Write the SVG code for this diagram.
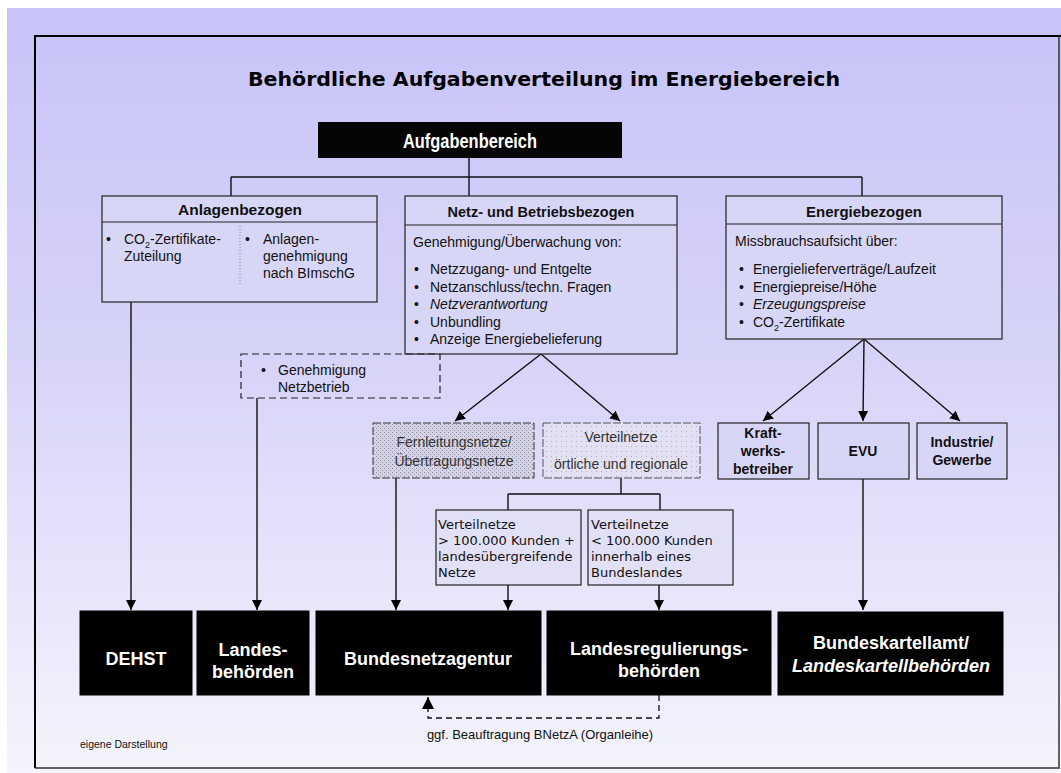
<svg xmlns="http://www.w3.org/2000/svg" width="1061" height="773" viewBox="0 0 1061 773">
<defs>
<linearGradient id="bg" x1="0" y1="0" x2="0" y2="1">
<stop offset="0" stop-color="#c8c3f8"/>
<stop offset="0.45" stop-color="#d6d3f8"/>
<stop offset="1" stop-color="#f4f4fc"/>
</linearGradient>
<pattern id="stip" width="4" height="4" patternUnits="userSpaceOnUse">
<rect width="4" height="4" fill="#d4d2e6"/>
<rect x="0" y="0" width="1" height="1" fill="#8a8a9a"/>
<rect x="2" y="2" width="1" height="1" fill="#9a9aaa"/>
</pattern>
<pattern id="stip2" width="5" height="5" patternUnits="userSpaceOnUse">
<rect width="5" height="5" fill="#e2e0f2"/>
<rect x="1" y="1" width="1" height="1" fill="#b0b0c0"/>
</pattern>
<marker id="ah" viewBox="0 0 10 10" refX="10" refY="5" markerWidth="10" markerHeight="10" markerUnits="userSpaceOnUse" orient="auto">
<path d="M0,0 L10,5 L0,10 z" fill="#000"/>
</marker>
<marker id="ahb" viewBox="0 0 10 10" refX="10" refY="5" markerWidth="12" markerHeight="12" markerUnits="userSpaceOnUse" orient="auto">
<path d="M0,0 L10,5 L0,10 z" fill="#000"/>
</marker>
</defs>
<style>
.box{fill:#d8d6f6;stroke:#222;stroke-width:1.2}
.blk{fill:#000;stroke:#000}
.hd{font-family:"Liberation Sans",Arial,sans-serif;font-weight:bold;font-size:14.5px;fill:#111}
.hs{font-family:"Liberation Sans",Arial,sans-serif;font-weight:bold;font-size:14px;fill:#111}
.tx{font-family:"Liberation Sans",Arial,sans-serif;font-size:14px;fill:#111}
.sm{font-family:"Liberation Sans",Arial,sans-serif;font-size:13px;fill:#111}
.mono{font-family:"DejaVu Sans",sans-serif;font-size:13px;fill:#111}
.wt{font-family:"Liberation Sans",Arial,sans-serif;font-weight:bold;font-size:18px;fill:#fff}
.ln{stroke:#111;stroke-width:1.4;fill:none}
</style>
<rect x="0" y="0" width="1061" height="773" fill="#fff"/>
<rect x="7" y="8" width="1054" height="765" fill="url(#bg)"/>
<path d="M35,768 L35,36 L1061,36" fill="none" stroke="#000" stroke-width="2"/>
<path d="M35,768 L1059,768 L1059,36" fill="none" stroke="#333" stroke-width="1.5"/>
<text x="544" y="86" text-anchor="middle" font-family="DejaVu Sans,sans-serif" font-weight="bold" font-size="19" fill="#000" textLength="592" lengthAdjust="spacingAndGlyphs">Behördliche Aufgabenverteilung im Energiebereich</text>

<g id="connectors">
<path class="ln" d="M469,158 L469,196 M231,177 L862,177 M231,177 L231,196 M862,177 L862,196"/>
<line class="ln" x1="541" y1="354" x2="455" y2="421" marker-end="url(#ah)"/>
<line class="ln" x1="541" y1="354" x2="620" y2="421" marker-end="url(#ah)"/>
<line class="ln" x1="864" y1="339" x2="763" y2="421" marker-end="url(#ah)"/>
<line class="ln" x1="864" y1="339" x2="863" y2="421" marker-end="url(#ah)"/>
<line class="ln" x1="864" y1="339" x2="960" y2="421" marker-end="url(#ah)"/>
<path class="ln" d="M621,478 L621,494 M508,494 L660,494 M508,494 L508,510 M660,494 L660,510"/>
<line class="ln" x1="131" y1="302" x2="131" y2="610" marker-end="url(#ah)"/>
<line class="ln" x1="257" y1="398" x2="257" y2="610" marker-end="url(#ah)"/>
<line class="ln" x1="396" y1="478" x2="396" y2="610" marker-end="url(#ah)"/>
<line class="ln" x1="508" y1="585" x2="508" y2="610" marker-end="url(#ah)"/>
<line class="ln" x1="659" y1="585" x2="659" y2="610" marker-end="url(#ah)"/>
<line class="ln" x1="863" y1="479" x2="863" y2="610" marker-end="url(#ah)"/>
<path d="M659,695 L659,718 L428,718 L428,697" fill="none" stroke="#111" stroke-width="1.3" stroke-dasharray="6,4" marker-end="url(#ahb)"/>
<text x="540" y="739" text-anchor="middle" class="sm">ggf. Beauftragung BNetzA (Organleihe)</text>
</g>

<g id="aufgabenbereich">
<rect x="318" y="122" width="304" height="36" fill="#050505"/>
<text x="470" y="148" text-anchor="middle" font-family="Liberation Sans,Arial,sans-serif" font-weight="bold" font-size="20" fill="#fff" textLength="134" lengthAdjust="spacingAndGlyphs">Aufgabenbereich</text>
</g>

<g id="anlagenbezogen">
<rect class="box" x="102" y="196" width="275" height="106"/>
<line x1="102" y1="222" x2="377" y2="222" stroke="#222" stroke-width="1.2"/>
<text class="hd" x="240" y="215" text-anchor="middle" style="font-size:15.5px">Anlagenbezogen</text>
<line x1="240" y1="226" x2="240" y2="284" stroke="#888" stroke-width="1" stroke-dasharray="1,2"/>
<text class="tx" x="106" y="244">•</text>
<text class="tx" x="124" y="244">CO<tspan font-size="9" dy="4">2</tspan><tspan dy="-4">-Zertifikate-</tspan></text>
<text class="tx" x="124" y="261">Zuteilung</text>
<text class="tx" x="245" y="244">•</text>
<text class="tx" x="263" y="244">Anlagen-</text>
<text class="tx" x="263" y="261">genehmigung</text>
<text class="tx" x="263" y="278">nach BImschG</text>
</g>

<g id="netzbezogen">
<rect class="box" x="405" y="196" width="272" height="158"/>
<line x1="405" y1="225" x2="677" y2="225" stroke="#222" stroke-width="1.2"/>
<text class="hd" x="541" y="217" text-anchor="middle">Netz- und Betriebsbezogen</text>
<text class="tx" x="413" y="247">Genehmigung/Überwachung von:</text>
<text class="tx" x="414" y="274">•</text><text class="tx" x="430" y="274">Netzzugang- und Entgelte</text>
<text class="tx" x="414" y="292">•</text><text class="tx" x="430" y="292">Netzanschluss/techn.  Fragen</text>
<text class="tx" x="414" y="309">•</text><text class="tx" x="430" y="309" font-style="italic">Netzverantwortung</text>
<text class="tx" x="414" y="327">•</text><text class="tx" x="430" y="327">Unbundling</text>
<text class="tx" x="414" y="344">•</text><text class="tx" x="430" y="344">Anzeige Energiebelieferung</text>
</g>

<g id="energiebezogen">
<rect class="box" x="726" y="196" width="276" height="143"/>
<line x1="726" y1="224" x2="1002" y2="224" stroke="#222" stroke-width="1.2"/>
<text class="hd" x="864" y="217" text-anchor="middle" style="font-size:15px">Energiebezogen</text>
<text class="tx" x="735" y="246">Missbrauchsaufsicht über:</text>
<text class="tx" x="739" y="274">•</text><text class="tx" x="753" y="274">Energielieferverträge/Laufzeit</text>
<text class="tx" x="739" y="292">•</text><text class="tx" x="753" y="292">Energiepreise/Höhe</text>
<text class="tx" x="739" y="309">•</text><text class="tx" x="753" y="309" font-style="italic">Erzeugungspreise</text>
<text class="tx" x="739" y="327">•</text><text class="tx" x="753" y="327">CO<tspan font-size="9" dy="4">2</tspan><tspan dy="-4">-Zertifikate</tspan></text>
</g>

<g id="genehmigung-netzbetrieb">
<rect x="241" y="354" width="199" height="44" fill="none" stroke="#222" stroke-width="1.2" stroke-dasharray="7,4"/>
<text class="tx" x="261" y="375">•</text>
<text class="tx" x="278" y="375">Genehmigung</text>
<text class="tx" x="278" y="392">Netzbetrieb</text>
</g>

<g id="fernleitungsnetze">
<rect x="373" y="423" width="161" height="55" fill="url(#stip)" stroke="#333" stroke-width="1" stroke-dasharray="8,2"/>
<text class="tx" x="454" y="447" text-anchor="middle" style="fill:#333">Fernleitungsnetze/</text>
<text class="tx" x="454" y="466" text-anchor="middle" style="fill:#333">Übertragungsnetze</text>
</g>

<g id="verteilnetze">
<rect x="543" y="423" width="157" height="55" fill="url(#stip2)" stroke="#555" stroke-width="1" stroke-dasharray="8,2"/>
<text class="tx" x="621" y="442" text-anchor="middle" style="fill:#333">Verteilnetze</text>
<text class="tx" x="621" y="469" text-anchor="middle" style="fill:#333">örtliche und regionale</text>
</g>

<g id="verteilnetze-gross">
<rect class="box" x="436" y="510" width="145" height="75" style="fill:#e2e0f6"/>
<text class="mono" x="438" y="529">Verteilnetze</text>
<text class="mono" x="438" y="545">&gt; 100.000 Kunden +</text>
<text class="mono" x="438" y="561">landesübergreifende</text>
<text class="mono" x="438" y="577">Netze</text>
</g>

<g id="verteilnetze-klein">
<rect class="box" x="588" y="510" width="145" height="75" style="fill:#e2e0f6"/>
<text class="mono" x="591" y="529">Verteilnetze</text>
<text class="mono" x="591" y="545">&lt; 100.000 Kunden</text>
<text class="mono" x="591" y="561">innerhalb eines</text>
<text class="mono" x="591" y="577">Bundeslandes</text>
</g>

<g id="kraftwerksbetreiber">
<rect class="box" x="718" y="423" width="91" height="56"/>
<text class="hs" x="763" y="438" text-anchor="middle">Kraft-</text>
<text class="hs" x="763" y="456" text-anchor="middle">werks-</text>
<text class="hs" x="763" y="474" text-anchor="middle">betreiber</text>
</g>

<g id="evu">
<rect class="box" x="818" y="423" width="91" height="56"/>
<text class="hs" x="863" y="456" text-anchor="middle">EVU</text>
</g>

<g id="industrie">
<rect class="box" x="917" y="423" width="90" height="56"/>
<text class="hs" x="962" y="447" text-anchor="middle">Industrie/</text>
<text class="hs" x="962" y="465" text-anchor="middle">Gewerbe</text>
</g>

<g id="dehst">
<rect class="blk" x="80" y="611" width="112" height="84"/>
<text class="wt" x="136" y="665" text-anchor="middle">DEHST</text>
</g>
<g id="landesbehoerden">
<rect class="blk" x="197" y="611" width="112" height="84"/>
<text class="wt" x="253" y="656" text-anchor="middle">Landes-</text>
<text class="wt" x="253" y="678" text-anchor="middle">behörden</text>
</g>
<g id="bundesnetzagentur">
<rect class="blk" x="316" y="611" width="225" height="84"/>
<text class="wt" x="428" y="665" text-anchor="middle">Bundesnetzagentur</text>
</g>
<g id="landesregulierungsbehoerden">
<rect class="blk" x="547" y="611" width="224" height="84"/>
<text class="wt" x="659" y="655" text-anchor="middle">Landesregulierungs-</text>
<text class="wt" x="659" y="677" text-anchor="middle">behörden</text>
</g>
<g id="bundeskartellamt">
<rect class="blk" x="778" y="612" width="225" height="83"/>
<text class="wt" x="891" y="649" text-anchor="middle">Bundeskartellamt/</text>
<text class="wt" x="891" y="672" text-anchor="middle" style="font-style:italic">Landeskartellbehörden</text>
</g>

<text x="80" y="748" font-family="Liberation Sans,Arial,sans-serif" font-size="10.5" fill="#111">eigene Darstellung</text>
</svg>
